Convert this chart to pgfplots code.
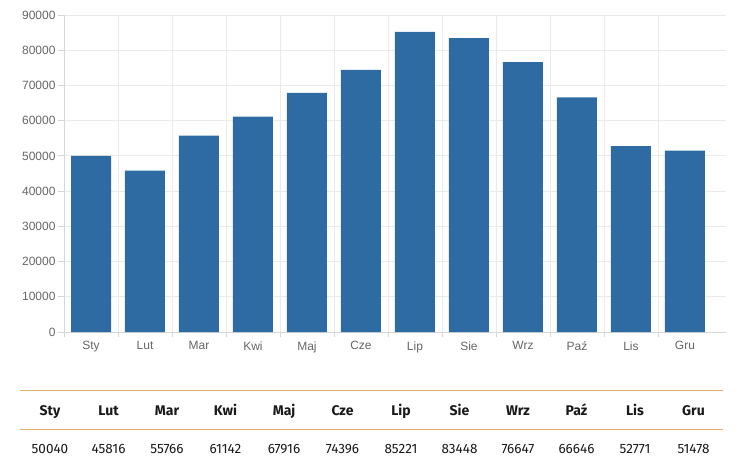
\documentclass[border=0pt]{standalone}
\usepackage{pgfplots}
\pgfplotsset{compat=1.18}
\usepackage{fontspec}
\setmainfont{Liberation Sans}
\newfontfamily\fira{Fira Sans}
\definecolor{barblue}{RGB}{45,107,162}
\definecolor{gridgray}{RGB}{234,234,234}
\definecolor{axisgray}{RGB}{215,215,215}
\definecolor{labgray}{RGB}{102,102,102}
\definecolor{lineorange}{RGB}{226,176,110}
\begin{document}
\begin{tikzpicture}[x=1bp,y=-1bp]
\path (0,0) rectangle (749,465);
\begin{axis}[
  at={(64bp,-332bp)}, anchor=south west,
  width=662bp, height=317bp, scale only axis,
  xmin=-0.5, xmax=11.76, ymin=0, ymax=90000,
  ybar, bar width=40bp,
  axis x line*=bottom, axis y line*=left,
  axis line style={draw=axisgray, line width=0.8bp},
  xtick={0,...,11},
  xticklabels={Sty,Lut,Mar,Kwi,Maj,Cze,Lip,Sie,Wrz,Paź,Lis,Gru},
  major x tick style={draw=none},
  minor xtick={-0.5,0.5,...,10.5},
  xminorgrids,
  minor x grid style={draw=gridgray, line width=0.8bp},
  minor x tick style={draw=axisgray, line width=0.8bp},
  ytick={0,10000,...,90000},
  ymajorgrids,
  major y grid style={draw=gridgray, line width=0.8bp},
  major y tick style={draw=axisgray, line width=0.8bp},
  tick align=outside,
  major tick length=6bp, minor tick length=5bp,
  scaled y ticks=false,
  /pgf/number format/assume math mode=true,
  /pgf/number format/1000 sep={},
  tick label style={font=\fontsize{12bp}{14bp}\selectfont, text=labgray},
  yticklabel style={xshift=1bp},
  clip=false,
]
\addplot[fill=barblue, draw=none] coordinates {
(0,50040) (1,45816) (2,55766) (3,61142) (4,67916) (5,74396)
(6,85221) (7,83448) (8,76647) (9,66646) (10,52771) (11,51478)};
\end{axis}
\draw[lineorange, line width=1bp] (20,390) -- (723,390);
\draw[lineorange, line width=1bp] (20,429) -- (723,429);
\foreach \n/\v [count=\i from 0] in {Sty/50040,Lut/45816,Mar/55766,Kwi/61142,Maj/67916,Cze/74396,Lip/85221,Sie/83448,Wrz/76647,Paź/66646,Lis/52771,Gru/51478}{
  \node[anchor=base, inner sep=0pt, font=\fira\bfseries\fontsize{14bp}{16bp}\selectfont, text=black!90] at (50+58.5*\i,415) {\n};
  \node[anchor=base, inner sep=0pt, font=\fira\fontsize{13.5bp}{15bp}\selectfont, text=black!90] at (50+58.5*\i,453.5) {\v};
}
\end{tikzpicture}
\end{document}
